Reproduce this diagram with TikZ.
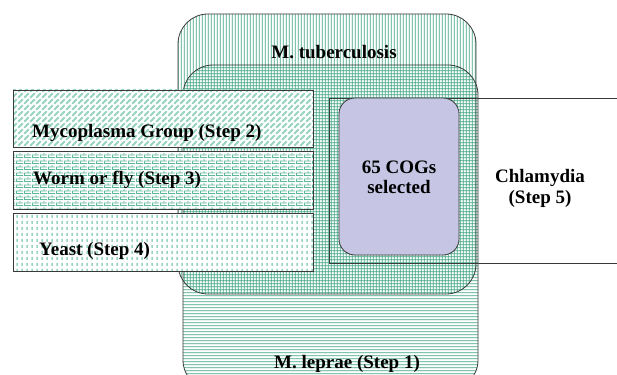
\documentclass[tikz,border=0pt]{standalone}
\usepackage{fontspec}
\setmainfont{Liberation Serif}
\usetikzlibrary{patterns}
\pgfdeclarepatternformonly{vl}{\pgfpointorigin}{\pgfqpoint{3pt}{120pt}}{\pgfqpoint{3pt}{120pt}}{%
  \pgfpathrectangle{\pgfqpoint{1pt}{-1pt}}{\pgfqpoint{1.2pt}{122pt}}\pgfusepath{fill}}
\pgfdeclarepatternformonly{hl}{\pgfpointorigin}{\pgfqpoint{120pt}{3pt}}{\pgfqpoint{120pt}{3pt}}{%
  \pgfpathrectangle{\pgfqpoint{-1pt}{1pt}}{\pgfqpoint{122pt}{1.2pt}}\pgfusepath{fill}}
\pgfdeclarepatternformonly{diagdash}{\pgfqpoint{-1pt}{-1pt}}{\pgfqpoint{7pt}{7pt}}{\pgfqpoint{6pt}{6pt}}{%
  \pgfsetlinewidth{2pt}\pgfsetroundcap
  \pgfpathmoveto{\pgfqpoint{0.5pt}{0.5pt}}\pgfpathlineto{\pgfqpoint{4.5pt}{4.5pt}}\pgfusepath{stroke}}
\pgfdeclarepatternformonly{tinybricks}{\pgfpointorigin}{\pgfqpoint{8pt}{6pt}}{\pgfqpoint{8pt}{6pt}}{%
  \pgfpathrectangle{\pgfqpoint{0pt}{0pt}}{\pgfqpoint{8pt}{1pt}}
  \pgfpathrectangle{\pgfqpoint{0pt}{3pt}}{\pgfqpoint{8pt}{1pt}}
  \pgfpathrectangle{\pgfqpoint{0pt}{0pt}}{\pgfqpoint{1pt}{3pt}}
  \pgfpathrectangle{\pgfqpoint{4pt}{3pt}}{\pgfqpoint{1pt}{3pt}}
  \pgfusepath{fill}}
\pgfdeclarepatternformonly{vdash}{\pgfpointorigin}{\pgfqpoint{5pt}{6pt}}{\pgfqpoint{5pt}{6pt}}{%
  \pgfpathrectangle{\pgfqpoint{1.5pt}{0pt}}{\pgfqpoint{1.8pt}{3.5pt}}\pgfusepath{fill}}
\definecolor{teal1}{HTML}{3FA584}
\definecolor{teal2}{HTML}{98D4C0}
\definecolor{teal3}{HTML}{5DB89B}
\definecolor{lav}{HTML}{C6C6E4}
\definecolor{edge}{HTML}{3A3A3A}
\begin{document}
\begin{tikzpicture}[x=1pt,y=-1pt,
  lbl/.style={font=\fontsize{19}{21}\selectfont\bfseries, text=black, inner sep=0pt},
  bigbox/.style={draw=edge, line width=0.8pt, rounded corners=30pt}]
\useasboundingbox (0,0) rectangle (617,374);
\begin{scope}
\clip (0,0) rectangle (617,374);
% M. tuberculosis
\path[fill=white] (178,14) [rounded corners=30pt] rectangle (476,294);
\path[pattern=vl, pattern color=teal1] (178,14) [rounded corners=30pt] rectangle (476,294);
% M. leprae
\path[pattern=hl, pattern color=teal1] (183,65) [rounded corners=30pt] rectangle (478,390);
\draw[bigbox] (178,14) rectangle (476,294);
\draw[bigbox] (183,65) rectangle (478,390);
% Chlamydia
\draw[edge, line width=0.8pt] (630,98) -- (329,98) -- (329,263) -- (630,263);
\end{scope}
\node[draw=edge, line width=0.8pt, fill=lav, rounded corners=16pt, minimum width=120pt, minimum height=157pt] (cog) at (399,176.5) {};
\node[lbl, align=center] (cogt) at (399,177) {65 COGs\\[-1pt]selected};
\node[lbl, align=center] (chl) at (540,188) {Chlamydia\\[0pt](Step 5)};
\node[lbl] (tb) at (334,52) {M. tuberculosis};
\node[lbl] (lep) at (347,364) {M. leprae (Step 1)};
% left strips
\path[fill=white] (13,90) rectangle (313,147);
\path[pattern=diagdash, pattern color=teal2] (13,90) rectangle (313,147);
\draw[edge, line width=0.8pt] (13,90) rectangle (313,147);
\path[fill=white] (13,151) rectangle (313,209);
\path[pattern=tinybricks, pattern color=teal3] (13,151) rectangle (313,209);
\draw[edge, line width=0.8pt] (13,151) rectangle (313,209);
\path[fill=white] (13,213) rectangle (313,271);
\path[pattern=vdash, pattern color=teal2] (13,213) rectangle (313,271);
\draw[edge, line width=0.8pt] (13,213) rectangle (313,271);
\node[lbl, anchor=west] (myc) at (32,133) {Mycoplasma Group (Step 2)};
\node[lbl, anchor=west] (worm) at (33,180) {Worm or fly (Step 3)};
\node[lbl, anchor=west] (yeast) at (39,251) {Yeast (Step 4)};
\end{tikzpicture}
\end{document}
